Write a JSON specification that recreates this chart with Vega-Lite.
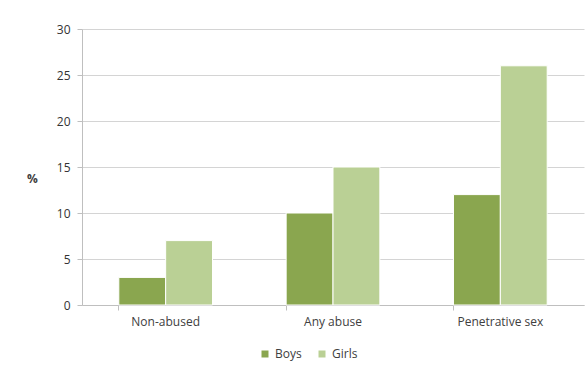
{
  "$schema": "https://vega.github.io/schema/vega-lite/v6.json",
  "width": 502,
  "height": 276,
  "autosize": {"type": "none"},
  "padding": {"left": 82, "top": 29, "right": 3, "bottom": 62},
  "background": "white",
  "data": {
    "values": [
      {"group": "Non-abused", "sex": "Boys", "pct": 3},
      {"group": "Non-abused", "sex": "Girls", "pct": 7},
      {"group": "Any abuse", "sex": "Boys", "pct": 10},
      {"group": "Any abuse", "sex": "Girls", "pct": 15},
      {"group": "Penetrative sex", "sex": "Boys", "pct": 12},
      {"group": "Penetrative sex", "sex": "Girls", "pct": 26}
    ]
  },
  "mark": {"type": "bar", "stroke": "white", "strokeWidth": 1},
  "encoding": {
    "x": {
      "field": "group",
      "type": "nominal",
      "sort": ["Non-abused", "Any abuse", "Penetrative sex"],
      "scale": {"paddingInner": 0.44, "paddingOuter": 0.22},
      "axis": {
        "title": null,
        "labelAngle": 0,
        "bandPosition": 0,
        "domainColor": "#bfbfbf",
        "tickColor": "#bfbfbf",
        "tickSize": 5,
        "labelPadding": 6,
        "grid": false
      }
    },
    "xOffset": {"field": "sex", "type": "nominal", "sort": ["Boys", "Girls"], "scale": {"paddingInner": 0, "paddingOuter": 0}},
    "y": {
      "field": "pct",
      "type": "quantitative",
      "scale": {"domain": [0, 30], "nice": false},
      "axis": {
        "values": [0, 5, 10, 15, 20, 25, 30],
        "title": "%",
        "titleAngle": 0,
        "titleX": -50,
        "titleY": 149,
        "titleAlign": "center",
        "titleBaseline": "middle",
        "titleFontWeight": "bold",
        "titleFontSize": 12,
        "titleColor": "#404040",
        "domainColor": "#bfbfbf",
        "tickColor": "#bfbfbf",
        "tickSize": 5,
        "labelPadding": 7,
        "gridColor": "#d4d4d4",
        "labelColor": "#333333"
      }
    },
    "color": {
      "field": "sex",
      "type": "nominal",
      "sort": ["Boys", "Girls"],
      "scale": {"domain": ["Boys", "Girls"], "range": ["#8aa64f", "#bad095"]},
      "legend": {
        "title": null,
        "orient": "none",
        "direction": "horizontal",
        "legendX": 177,
        "legendY": 319,
        "symbolType": "square",
        "symbolSize": 49,
        "symbolStrokeWidth": 0,
        "labelFontSize": 12,
        "labelColor": "#404040",
        "columnPadding": 14,
        "labelOffset": 4
      }
    }
  },
  "config": {
    "font": "Open Sans",
    "view": {"stroke": null},
    "axis": {"labelFontSize": 12, "labelColor": "#404040", "labelFont": "Open Sans"}
  }
}
